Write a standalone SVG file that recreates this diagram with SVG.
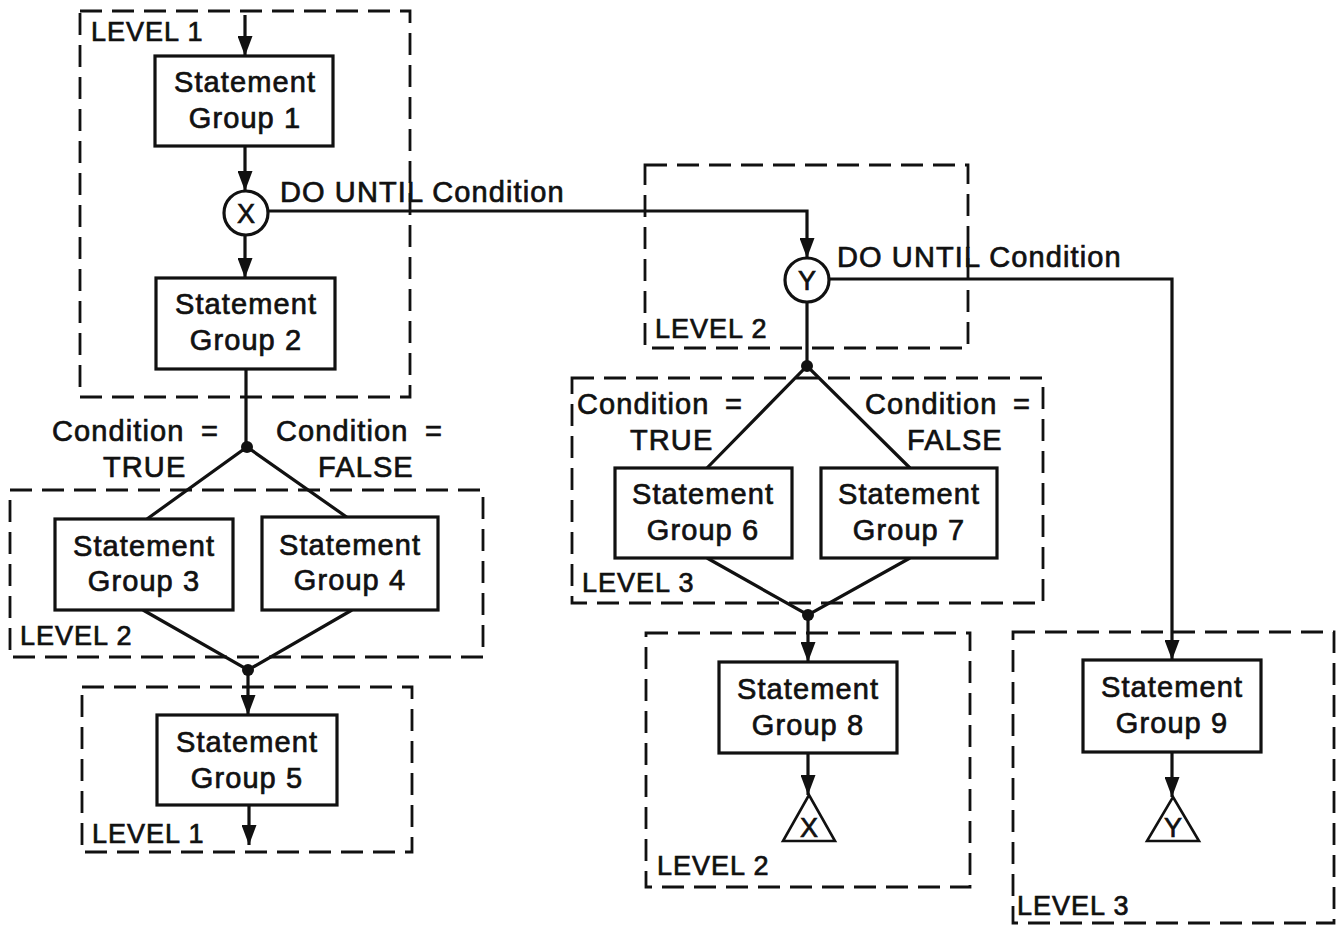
<svg xmlns="http://www.w3.org/2000/svg" width="1338" height="927" viewBox="0 0 1338 927">
  <style>
    .lvl { fill: none; stroke: #111; stroke-width: 2.8; stroke-dasharray: 22 10; }
    .box { fill: #fff; stroke: #111; stroke-width: 3.2; }
    .wire { fill: none; stroke: #111; stroke-width: 3.2; }
    .arr { marker-end: url(#head); }
    .dot { fill: #111; }
    text { font-family: "Liberation Sans", Arial, Helvetica, sans-serif; font-size: 29px; fill: #111; stroke: #111; stroke-width: 0.7px; letter-spacing: 1.1px; }
    .lab { font-size: 27px; letter-spacing: 1px; }
    .c { text-anchor: middle; }
    .sym { font-size: 27px; letter-spacing: 0; }
  </style>
  <defs>
    <marker id="head" markerUnits="userSpaceOnUse" viewBox="0 0 20 15" refX="20" refY="7.5" markerWidth="20" markerHeight="15" orient="auto">
      <path d="M0,0 L20,7.5 L0,15 z" fill="#111"/>
    </marker>
  </defs>
  <rect width="1338" height="927" fill="#fff"/>

  <!-- level frames -->
  <g id="levels">
    <rect class="lvl" x="80" y="11" width="330" height="386"/>
    <text class="lab" x="91" y="41">LEVEL 1</text>
    <rect class="lvl" x="10" y="490" width="473" height="167"/>
    <text class="lab" x="20" y="645">LEVEL 2</text>
    <rect class="lvl" x="82" y="687" width="330" height="165"/>
    <text class="lab" x="92" y="843">LEVEL 1</text>
    <rect class="lvl" x="645" y="165" width="323" height="183"/>
    <text class="lab" x="655" y="338">LEVEL 2</text>
    <rect class="lvl" x="572" y="378" width="471" height="225"/>
    <text class="lab" x="582" y="592">LEVEL 3</text>
    <rect class="lvl" x="646" y="633" width="324" height="254"/>
    <text class="lab" x="657" y="875">LEVEL 2</text>
    <rect class="lvl" x="1013" y="632" width="321" height="291"/>
    <text class="lab" x="1017" y="915">LEVEL 3</text>
  </g>

  <!-- connectors -->
  <g id="connectors">
    <path class="wire arr" d="M245,15 V56"/>
    <path class="wire arr" d="M245,146 V191"/>
    <path class="wire arr" d="M245,235 V278"/>
    <path class="wire arr" d="M267,211 H807 V258"/>
    <path class="wire" d="M246,369 V447"/>
    <path class="wire" d="M147,519 L247,447 L348,518"/>
    <path class="wire" d="M143,610 L248,670 L352,610"/>
    <path class="wire arr" d="M248,670 V715"/>
    <path class="wire arr" d="M249,805 V845"/>
    <path class="wire" d="M807,302 V366"/>
    <path class="wire" d="M707,468 L807,366 L910,468"/>
    <path class="wire" d="M707,558 L808,615 L910,558"/>
    <path class="wire arr" d="M808,615 V662"/>
    <path class="wire arr" d="M808,753 V795"/>
    <path class="wire arr" d="M829,279 H1172 V660"/>
    <path class="wire arr" d="M1172,752 V797"/>
    <circle class="dot" cx="247" cy="447" r="6"/>
    <circle class="dot" cx="248" cy="670" r="6"/>
    <circle class="dot" cx="807" cy="366" r="6"/>
    <circle class="dot" cx="808" cy="615" r="6"/>
  </g>

  <!-- connector labels -->
  <g id="labels">
    <text x="280" y="202">DO UNTIL Condition</text>
    <text x="837" y="267">DO UNTIL Condition</text>
    <text x="52" y="441">Condition<tspan x="201">=</tspan></text>
    <text x="103" y="477">TRUE</text>
    <text x="276" y="441">Condition<tspan x="425">=</tspan></text>
    <text x="318" y="477">FALSE</text>
    <text x="577" y="414">Condition<tspan x="725">=</tspan></text>
    <text x="630" y="450">TRUE</text>
    <text x="865" y="414">Condition<tspan x="1013">=</tspan></text>
    <text x="907" y="450">FALSE</text>
  </g>

  <g id="sg1">
    <rect class="box" x="155" y="56" width="178" height="90"/>
    <text class="c" x="245" y="92">Statement</text>
    <text class="c" x="245" y="128">Group 1</text>
  </g>
  <g id="connector-x">
    <circle class="box" cx="246" cy="213" r="22"/>
    <text class="c sym" x="246" y="223">X</text>
  </g>
  <g id="sg2">
    <rect class="box" x="156" y="278" width="179" height="91"/>
    <text class="c" x="246" y="314">Statement</text>
    <text class="c" x="246" y="350">Group 2</text>
  </g>
  <g id="sg3">
    <rect class="box" x="55" y="519" width="178" height="91"/>
    <text class="c" x="144" y="556">Statement</text>
    <text class="c" x="144" y="591">Group 3</text>
  </g>
  <g id="sg4">
    <rect class="box" x="262" y="517" width="176" height="93"/>
    <text class="c" x="350" y="555">Statement</text>
    <text class="c" x="350" y="590">Group 4</text>
  </g>
  <g id="sg5">
    <rect class="box" x="157" y="715" width="180" height="90"/>
    <text class="c" x="247" y="752">Statement</text>
    <text class="c" x="247" y="788">Group 5</text>
  </g>
  <g id="connector-y">
    <circle class="box" cx="807" cy="280" r="22"/>
    <text class="c sym" x="807" y="290">Y</text>
  </g>
  <g id="sg6">
    <rect class="box" x="615" y="468" width="177" height="90"/>
    <text class="c" x="703" y="504">Statement</text>
    <text class="c" x="703" y="540">Group 6</text>
  </g>
  <g id="sg7">
    <rect class="box" x="821" y="468" width="176" height="90"/>
    <text class="c" x="909" y="504">Statement</text>
    <text class="c" x="909" y="540">Group 7</text>
  </g>
  <g id="sg8">
    <rect class="box" x="719" y="662" width="178" height="91"/>
    <text class="c" x="808" y="699">Statement</text>
    <text class="c" x="808" y="735">Group 8</text>
  </g>
  <g id="exit-x">
    <path class="box" d="M809,795 L835,841 L783,841 z" style="stroke-width:2.6"/>
    <text class="c sym" x="809" y="837">X</text>
  </g>
  <g id="sg9">
    <rect class="box" x="1083" y="660" width="178" height="92"/>
    <text class="c" x="1172" y="697">Statement</text>
    <text class="c" x="1172" y="733">Group 9</text>
  </g>
  <g id="exit-y">
    <path class="box" d="M1173,797 L1199,841 L1147,841 z" style="stroke-width:2.6"/>
    <text class="c sym" x="1173" y="837">Y</text>
  </g>
</svg>
